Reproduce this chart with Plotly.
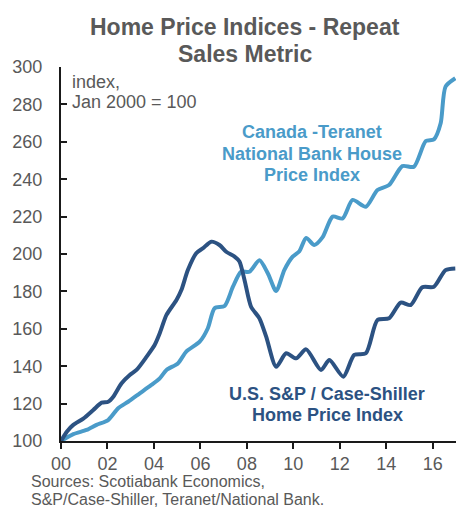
import plotly.graph_objects as go

# ---- data ----
us_years = [2000.0, 2000.25, 2000.53, 2000.96, 2001.39, 2001.75, 2002.03, 2002.25, 2002.6, 2002.96,
            2003.25, 2003.68, 2004.03, 2004.25, 2004.54, 2004.97, 2005.18, 2005.46, 2005.82, 2006.1,
            2006.47, 2006.82, 2007.11, 2007.47, 2007.68, 2007.9, 2008.18, 2008.54, 2008.83, 2009.26,
            2009.69, 2010.12, 2010.55, 2011.19, 2011.55, 2012.15, 2012.62, 2013.12, 2013.62, 2014.12,
            2014.62, 2015.05, 2015.55, 2016.05, 2016.55, 2016.97]
us_vals = [100, 105, 108.6, 112, 116.6, 120.5, 121, 123.7, 130.8, 135.3,
           138, 145, 151.3, 157.6, 167.4, 175.4, 180.7, 191.4, 200.4, 203,
           206.6, 204.8, 201.2, 198.6, 196, 186, 171.8, 165.6, 155.8, 139.7,
           146.9, 144.2, 149, 138, 143.3, 134.4, 146, 146.9, 164.7, 165.6,
           174, 172.7, 182.2, 182.5, 191.4, 192.3]

ca_years = [2000.0, 2000.53, 2001.1, 2001.53, 2002.03, 2002.46, 2002.89, 2003.39, 2003.89, 2004.25,
            2004.54, 2005.03, 2005.39, 2005.97, 2006.32, 2006.61, 2007.04, 2007.4, 2007.75, 2008.11,
            2008.54, 2008.9, 2009.26, 2009.61, 2009.97, 2010.26, 2010.55, 2010.9, 2011.26, 2011.69,
            2012.12, 2012.55, 2013.12, 2013.62, 2014.12, 2014.69, 2015.19, 2015.7, 2016.05, 2016.34,
            2016.55, 2016.97]
ca_vals = [100, 103.7, 105.9, 108.6, 111.2, 117.5, 121, 125.5, 130, 133.5,
           138, 141.5, 147.8, 153.1, 160.3, 171, 172.2, 182.5, 190.5, 190.5,
           196.6, 189.7, 180.2, 191.4, 198.6, 201.5, 208.6, 204.8, 209, 220,
           219, 228.9, 225.3, 234.2, 236.9, 247, 246.7, 260.4, 261.3, 269.9,
           289.5, 294]

x_tickvals = [2000, 2002, 2004, 2006, 2008, 2010, 2012, 2014, 2016]
x_ticktext = ["00", "02", "04", "06", "08", "10", "12", "14", "16"]
y_tickvals = [100, 120, 140, 160, 180, 200, 220, 240, 260, 280, 300]

US_COLOR = "#2c5282"
CA_COLOR = "#4a9bc9"
GRAY = "#595959"
FONT = "Liberation Sans, Arial, sans-serif"

fig = go.Figure()
fig.add_trace(go.Scatter(x=ca_years, y=ca_vals, mode="lines",
                         line=dict(color=CA_COLOR, width=4, shape="spline", smoothing=0.7),
                         showlegend=False, hoverinfo="skip"))
fig.add_trace(go.Scatter(x=us_years, y=us_vals, mode="lines",
                         line=dict(color=US_COLOR, width=4, shape="spline", smoothing=0.7),
                         showlegend=False, hoverinfo="skip"))

W, H = 456, 510
L, R, T, B = 61, 0, 67, 69

def px_x(px):
    return (px - L) / (W - L - R)

def px_y(py):
    return (H - B - py) / (H - T - B)

annos = []
# title
annos.append(dict(text="<b>Home Price Indices - Repeat</b>", x=px_x(245), y=px_y(27),
                  xref="paper", yref="paper", showarrow=False, xanchor="center", yanchor="middle",
                  font=dict(size=23, color=GRAY, family=FONT)))
annos.append(dict(text="<b>Sales Metric</b>", x=px_x(245), y=px_y(54),
                  xref="paper", yref="paper", showarrow=False, xanchor="center", yanchor="middle",
                  font=dict(size=23, color=GRAY, family=FONT)))
# index note
for txt, py in [("index,", 82), ("Jan 2000 = 100", 102)]:
    annos.append(dict(text=txt, x=px_x(70), y=px_y(py), xref="paper", yref="paper",
                      showarrow=False, xanchor="left", yanchor="middle",
                      font=dict(size=18, color=GRAY, family=FONT)))
# Canada label
for txt, py in [("Canada -Teranet", 132), ("National Bank House", 154), ("Price Index", 175)]:
    annos.append(dict(text="<b>" + txt + "</b>", x=px_x(312), y=px_y(py), xref="paper", yref="paper",
                      showarrow=False, xanchor="center", yanchor="middle",
                      font=dict(size=18, color=CA_COLOR, family=FONT)))
# US label
for txt, py in [("U.S. S&P / Case-Shiller", 394), ("Home Price Index", 415)]:
    annos.append(dict(text="<b>" + txt.replace("&", "&amp;") + "</b>", x=px_x(327), y=px_y(py),
                      xref="paper", yref="paper", showarrow=False, xanchor="center", yanchor="middle",
                      font=dict(size=18, color=US_COLOR, family=FONT)))
# sources
for txt, py in [("Sources: Scotiabank Economics,", 481), ("S&P/Case-Shiller, Teranet/National Bank.", 499)]:
    annos.append(dict(text=txt.replace("&", "&amp;"), x=px_x(29), y=px_y(py), xref="paper", yref="paper",
                      showarrow=False, xanchor="left", yanchor="middle",
                      font=dict(size=16, color=GRAY, family=FONT)))

fig.update_layout(
    width=W, height=H,
    margin=dict(l=L, r=R, t=T, b=B, pad=0),
    paper_bgcolor="white", plot_bgcolor="white",
    font=dict(family=FONT, color=GRAY),
    annotations=annos,
    xaxis=dict(range=[2000, 2017], tickvals=x_tickvals, ticktext=x_ticktext,
               showgrid=False, zeroline=False, showline=True, linecolor="#1a1a1a", linewidth=2,
               ticks="outside", ticklen=6, tickwidth=2, tickcolor="#1a1a1a",
               tickfont=dict(size=18, color=GRAY, family=FONT), ticklabelstandoff=-1),
    yaxis=dict(range=[100, 300], tickvals=y_tickvals,
               showgrid=False, zeroline=False, showline=True, linecolor="#1a1a1a", linewidth=2,
               ticks="inside", ticklen=6, tickwidth=2, tickcolor="#1a1a1a",
               tickfont=dict(size=18, color=GRAY, family=FONT), ticklabelstandoff=13),
)

fig.write_html("out.html", config={"displayModeBar": False},
               post_script="document.body.style.margin='0';document.body.style.overflow='hidden';")
